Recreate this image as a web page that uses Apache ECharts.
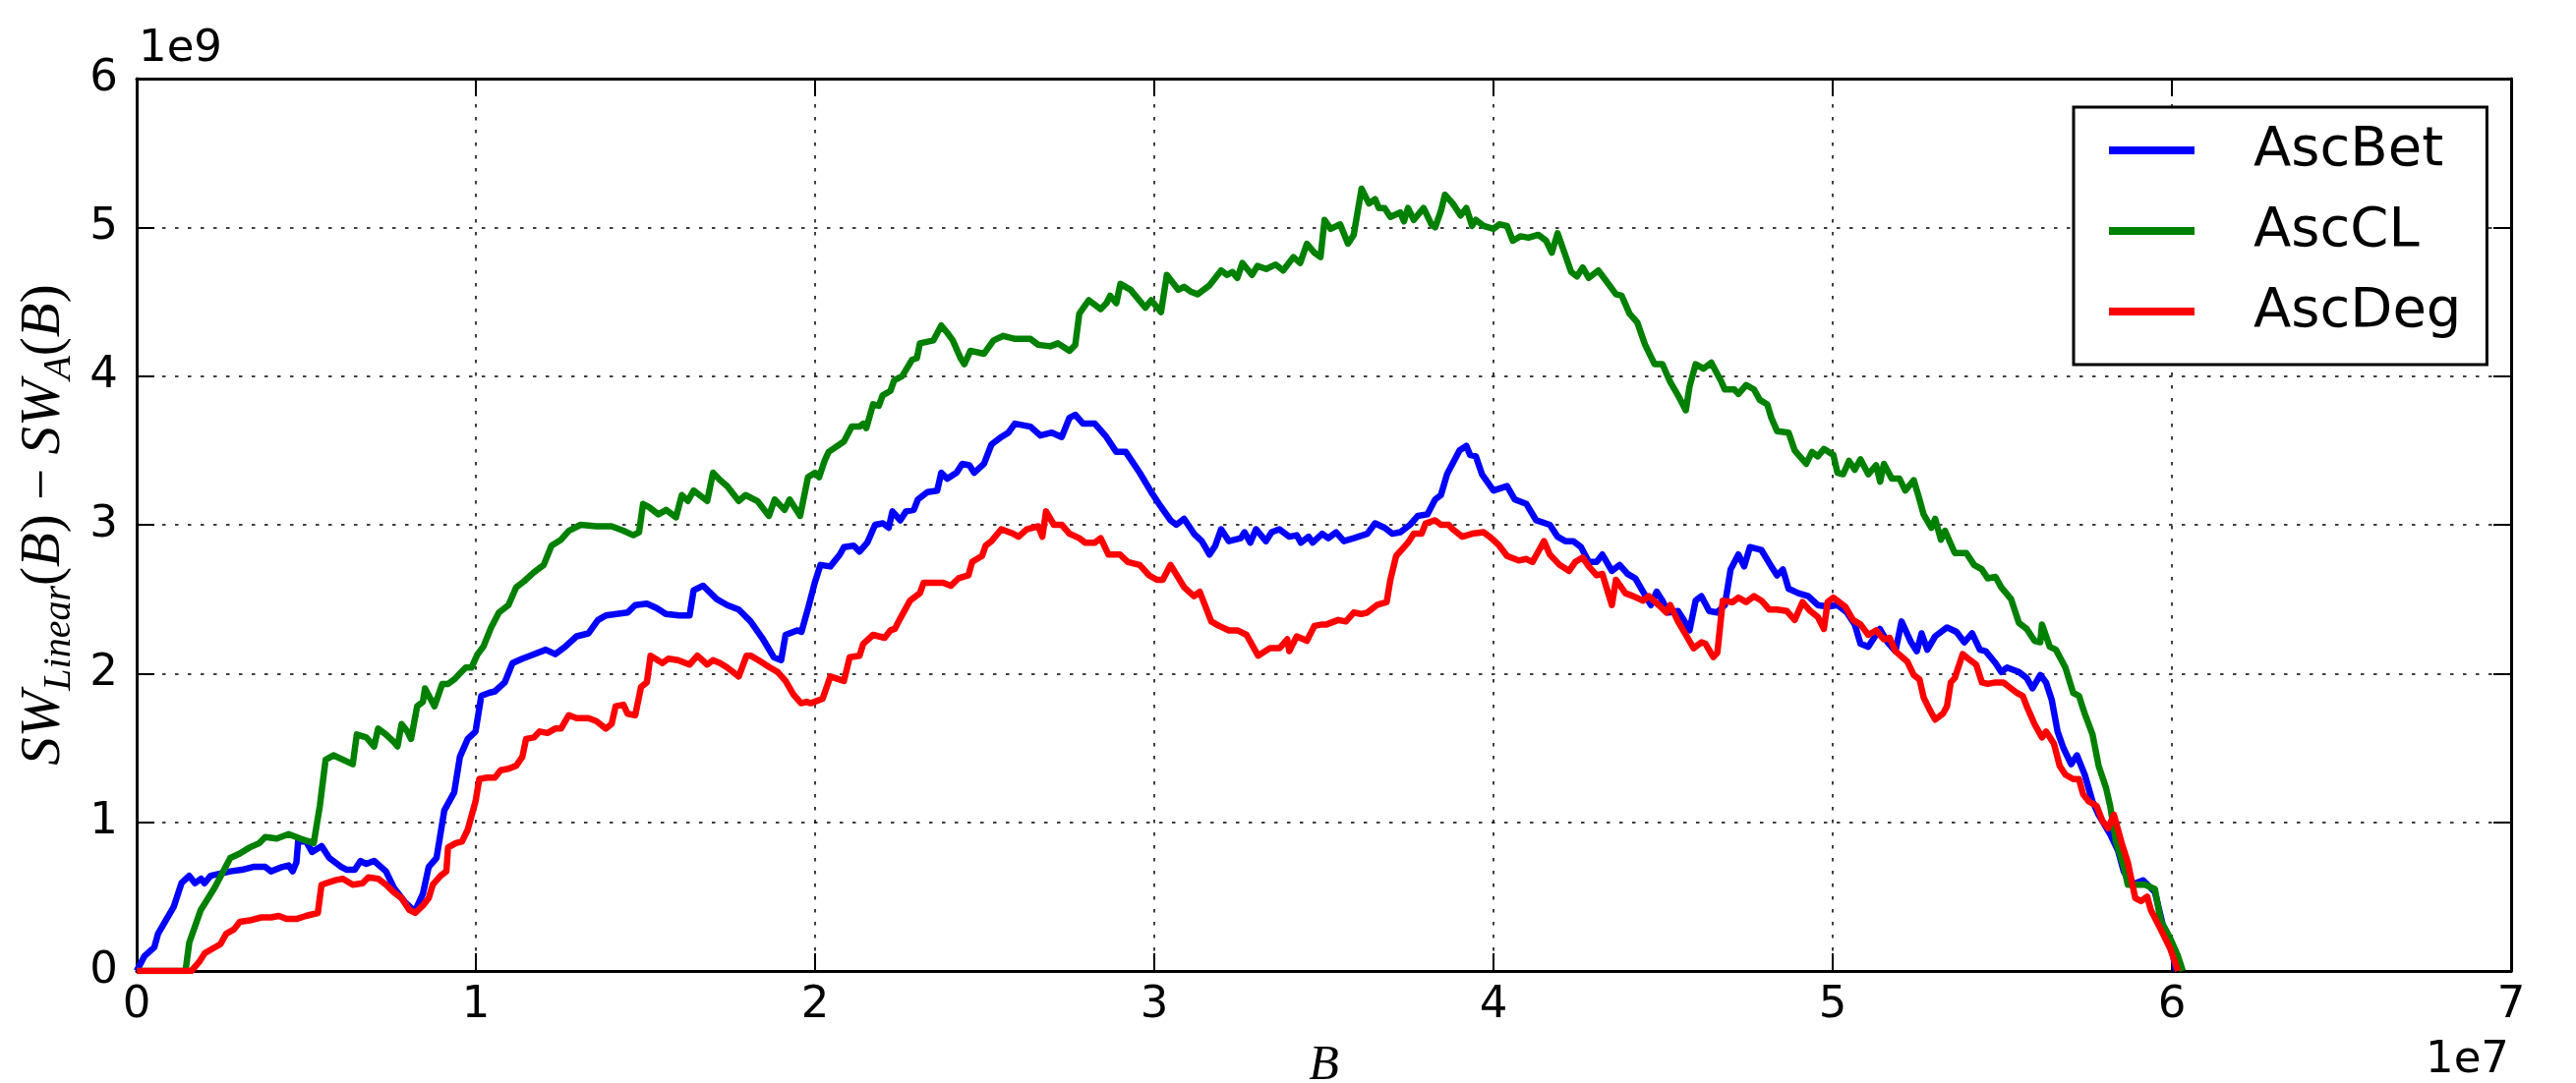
<!DOCTYPE html>
<html>
<head>
<meta charset="utf-8">
<script src="https://cdn.jsdelivr.net/npm/echarts@6/dist/echarts.min.js"></script>
<style>
html,body{margin:0;padding:0;background:#fff;}
#chart{width:2620px;height:1102px;}
</style>
</head>
<body>
<div id="chart"></div>
<script>
// B in units of 1e6, value in units of 1e9
const seriesNames = ['AscBet', 'AscCL', 'AscDeg'];
const xTicks = [0, 1, 2, 3, 4, 5, 6, 7];      // x tick labels (x 1e7)
const yTicks = [0, 1, 2, 3, 4, 5, 6];         // y tick labels (x 1e9)

const ascBet = [[0,0],[0.23,0.10],[0.52,0.16],[0.63,0.25],[1.09,0.43],[1.32,0.59],[1.55,0.64],[1.72,0.59],[1.9,0.62],[2.0,0.59],[2.18,0.64],[2.76,0.67],[3.1,0.68],[3.44,0.70],[3.79,0.70],[3.96,0.67],[4.3,0.70],[4.48,0.71],[4.6,0.67],[4.71,0.73],[4.76,0.87],[5.0,0.87],[5.17,0.80],[5.45,0.84],[5.68,0.76],[6.03,0.70],[6.2,0.68],[6.43,0.68],[6.6,0.74],[6.77,0.72],[7.0,0.74],[7.35,0.67],[7.58,0.56],[7.92,0.46],[8.2,0.40],[8.44,0.52],[8.61,0.70],[8.84,0.76],[9.07,1.08],[9.36,1.20],[9.53,1.44],[9.76,1.56],[9.99,1.61],[10.16,1.85],[10.39,1.87],[10.56,1.88],[10.85,1.94],[11.08,2.07],[11.37,2.10],[11.6,2.12],[12.06,2.16],[12.34,2.13],[12.63,2.18],[12.97,2.25],[13.32,2.27],[13.6,2.36],[13.83,2.39],[14.47,2.41],[14.7,2.46],[15.04,2.47],[15.33,2.44],[15.6,2.40],[16.0,2.39],[16.3,2.39],[16.42,2.56],[16.7,2.59],[17.1,2.50],[17.41,2.46],[17.75,2.43],[18.1,2.35],[18.44,2.24],[18.78,2.11],[19.0,2.09],[19.13,2.26],[19.47,2.29],[19.6,2.28],[19.82,2.46],[19.99,2.61],[20.16,2.73],[20.45,2.72],[20.73,2.80],[20.85,2.85],[21.14,2.86],[21.31,2.82],[21.54,2.88],[21.77,3.0],[22.0,3.01],[22.17,2.98],[22.28,3.09],[22.51,3.03],[22.68,3.09],[22.91,3.10],[23.03,3.17],[23.31,3.22],[23.6,3.23],[23.72,3.35],[23.9,3.31],[24.17,3.35],[24.34,3.41],[24.55,3.40],[24.69,3.35],[24.98,3.41],[25.2,3.54],[25.49,3.59],[25.7,3.62],[25.89,3.68],[26.35,3.66],[26.64,3.60],[26.98,3.62],[27.27,3.59],[27.5,3.72],[27.67,3.74],[27.9,3.68],[28.25,3.68],[28.59,3.59],[28.88,3.49],[29.16,3.49],[29.57,3.35],[29.91,3.22],[30.14,3.14],[30.48,3.03],[30.65,3.0],[30.88,3.04],[31.17,2.94],[31.4,2.89],[31.63,2.80],[31.8,2.86],[31.97,2.97],[32.2,2.89],[32.55,2.91],[32.66,2.95],[32.83,2.88],[33.0,2.97],[33.29,2.89],[33.46,2.95],[33.69,2.97],[33.98,2.92],[34.2,2.93],[34.32,2.88],[34.55,2.92],[34.67,2.88],[34.95,2.94],[35.13,2.91],[35.36,2.95],[35.59,2.89],[35.88,2.91],[36.28,2.94],[36.51,3.01],[36.79,2.98],[37.02,2.94],[37.25,2.95],[37.54,3.0],[37.77,3.06],[38.05,3.07],[38.28,3.17],[38.45,3.20],[38.63,3.34],[39.0,3.50],[39.2,3.53],[39.31,3.47],[39.48,3.46],[39.66,3.34],[40.0,3.23],[40.4,3.26],[40.63,3.17],[40.97,3.14],[41.26,3.03],[41.66,3.0],[41.89,2.92],[42.12,2.89],[42.35,2.89],[42.58,2.85],[42.81,2.75],[43.04,2.75],[43.21,2.80],[43.49,2.69],[43.72,2.73],[43.95,2.67],[44.18,2.64],[44.41,2.55],[44.64,2.46],[44.81,2.55],[44.98,2.49],[45.15,2.41],[45.44,2.42],[45.61,2.36],[45.78,2.29],[45.96,2.49],[46.13,2.52],[46.36,2.42],[46.59,2.41],[46.82,2.46],[46.99,2.70],[47.22,2.80],[47.39,2.72],[47.56,2.85],[47.9,2.83],[48.19,2.72],[48.36,2.66],[48.53,2.70],[48.7,2.57],[48.99,2.54],[49.28,2.52],[49.56,2.46],[49.85,2.45],[50.14,2.46],[50.42,2.41],[50.65,2.33],[50.82,2.20],[51.05,2.18],[51.22,2.24],[51.39,2.30],[51.62,2.21],[51.85,2.15],[52.03,2.35],[52.31,2.21],[52.48,2.15],[52.62,2.27],[52.79,2.16],[53.02,2.25],[53.37,2.31],[53.65,2.28],[53.88,2.21],[54.11,2.27],[54.34,2.16],[54.51,2.15],[54.8,2.07],[54.97,2.01],[55.14,2.04],[55.49,2.01],[55.72,1.97],[55.89,1.90],[56.12,1.99],[56.29,1.94],[56.46,1.82],[56.63,1.61],[56.8,1.50],[57.03,1.39],[57.2,1.45],[57.43,1.32],[57.66,1.14],[57.84,1.05],[58.18,0.92],[58.41,0.81],[58.58,0.67],[58.81,0.58],[59.15,0.61],[59.5,0.53],[59.73,0.31],[59.95,0.19],[60.13,0]];

const ascCL = [[0,0],[1.44,0],[1.55,0.19],[1.89,0.41],[2.3,0.56],[2.76,0.76],[3.04,0.79],[3.33,0.83],[3.62,0.86],[3.79,0.90],[4.13,0.89],[4.48,0.92],[4.82,0.89],[5.22,0.86],[5.4,1.11],[5.57,1.42],[5.8,1.45],[6.37,1.39],[6.49,1.59],[6.77,1.57],[7.0,1.51],[7.12,1.63],[7.35,1.59],[7.58,1.54],[7.69,1.51],[7.81,1.66],[7.98,1.61],[8.09,1.56],[8.27,1.78],[8.44,1.81],[8.5,1.90],[8.78,1.78],[9.01,1.93],[9.18,1.93],[9.36,1.96],[9.53,2.0],[9.7,2.04],[9.87,2.04],[10.05,2.13],[10.22,2.18],[10.45,2.31],[10.68,2.41],[10.96,2.46],[11.19,2.58],[11.42,2.62],[11.71,2.68],[12.0,2.73],[12.23,2.86],[12.51,2.90],[12.74,2.96],[13.09,3.0],[13.55,2.99],[14.0,2.99],[14.35,2.96],[14.64,2.93],[14.81,2.95],[14.93,3.14],[15.1,3.12],[15.38,3.07],[15.61,3.10],[15.9,3.05],[16.07,3.20],[16.25,3.16],[16.42,3.23],[16.82,3.16],[16.99,3.35],[17.2,3.30],[17.41,3.26],[17.75,3.16],[17.95,3.20],[18.3,3.16],[18.64,3.06],[18.81,3.17],[19.1,3.10],[19.25,3.17],[19.56,3.06],[19.79,3.32],[20.0,3.35],[20.12,3.32],[20.28,3.43],[20.4,3.49],[20.85,3.56],[21.08,3.66],[21.31,3.66],[21.42,3.68],[21.51,3.65],[21.71,3.81],[21.88,3.80],[21.99,3.87],[22.22,3.90],[22.33,3.97],[22.57,4.0],[22.86,4.11],[23.0,4.12],[23.09,4.22],[23.49,4.24],[23.72,4.34],[23.9,4.29],[24.06,4.24],[24.29,4.12],[24.4,4.08],[24.58,4.17],[24.98,4.15],[25.26,4.24],[25.55,4.27],[25.9,4.25],[26.35,4.25],[26.58,4.21],[26.93,4.20],[27.16,4.22],[27.5,4.17],[27.67,4.21],[27.79,4.42],[28.07,4.51],[28.42,4.45],[28.59,4.49],[28.7,4.54],[28.88,4.49],[29.0,4.62],[29.3,4.58],[29.74,4.46],[29.91,4.51],[30.2,4.43],[30.37,4.68],[30.71,4.58],[30.88,4.60],[31.06,4.57],[31.28,4.55],[31.63,4.61],[31.97,4.71],[32.15,4.68],[32.3,4.70],[32.45,4.66],[32.6,4.76],[32.88,4.68],[33.04,4.74],[33.3,4.72],[33.58,4.75],[33.8,4.71],[34.1,4.80],[34.3,4.76],[34.5,4.89],[34.72,4.83],[34.9,4.80],[35.02,5.05],[35.2,4.99],[35.48,5.02],[35.71,4.89],[35.88,4.95],[36.11,5.26],[36.33,5.16],[36.51,5.19],[36.62,5.13],[36.79,5.13],[36.96,5.07],[37.25,5.10],[37.36,5.04],[37.48,5.13],[37.65,5.05],[37.94,5.13],[38.17,5.02],[38.28,5.00],[38.45,5.11],[38.57,5.22],[38.8,5.16],[39.03,5.08],[39.2,5.13],[39.37,5.01],[39.48,5.05],[39.71,5.01],[40.0,4.99],[40.17,5.02],[40.4,5.01],[40.57,4.91],[40.8,4.94],[41.03,4.93],[41.32,4.95],[41.55,4.91],[41.72,4.83],[41.89,4.96],[42.06,4.85],[42.29,4.70],[42.46,4.67],[42.63,4.73],[42.81,4.66],[43.09,4.71],[43.32,4.64],[43.61,4.55],[43.78,4.54],[44.01,4.42],[44.24,4.36],[44.47,4.21],[44.75,4.08],[44.98,4.08],[45.21,3.96],[45.44,3.87],[45.67,3.77],[45.78,3.93],[45.96,4.08],[46.19,4.05],[46.42,4.09],[46.7,3.97],[46.82,3.91],[47.1,3.91],[47.22,3.88],[47.45,3.94],[47.68,3.91],[47.85,3.84],[48.07,3.81],[48.19,3.72],[48.36,3.63],[48.7,3.62],[48.88,3.50],[49.22,3.41],[49.39,3.49],[49.56,3.46],[49.74,3.51],[50.02,3.47],[50.14,3.35],[50.31,3.34],[50.48,3.43],[50.65,3.37],[50.82,3.44],[51.05,3.34],[51.28,3.40],[51.4,3.29],[51.51,3.41],[51.74,3.31],[51.97,3.31],[52.14,3.23],[52.39,3.30],[52.56,3.17],[52.68,3.07],[52.91,2.98],[53.02,3.04],[53.19,2.90],[53.31,2.96],[53.6,2.81],[53.94,2.81],[54.17,2.73],[54.4,2.70],[54.57,2.64],[54.8,2.65],[54.97,2.58],[55.26,2.50],[55.49,2.34],[55.72,2.30],[55.95,2.22],[56.12,2.21],[56.17,2.33],[56.4,2.18],[56.58,2.16],[56.86,2.04],[57.09,1.87],[57.26,1.85],[57.43,1.73],[57.66,1.59],[57.84,1.38],[58.06,1.23],[58.18,1.11],[58.35,0.87],[58.58,0.70],[58.7,0.58],[58.98,0.58],[59.21,0.58],[59.5,0.55],[59.67,0.34],[59.95,0.22],[60.18,0.10],[60.32,0]];

const ascDeg = [[0,0],[1.61,0],[1.84,0.06],[2.01,0.12],[2.24,0.15],[2.47,0.18],[2.64,0.25],[2.87,0.28],[3.04,0.33],[3.33,0.34],[3.67,0.36],[3.96,0.36],[4.19,0.37],[4.42,0.35],[4.71,0.35],[4.99,0.37],[5.34,0.39],[5.45,0.58],[5.86,0.61],[6.08,0.62],[6.37,0.58],[6.66,0.59],[6.83,0.63],[7.12,0.62],[7.35,0.58],[7.58,0.53],[7.81,0.49],[8.04,0.41],[8.21,0.39],[8.44,0.44],[8.61,0.49],[8.73,0.58],[8.96,0.64],[9.13,0.67],[9.18,0.83],[9.41,0.86],[9.59,0.87],[9.76,0.95],[9.99,1.14],[10.1,1.29],[10.33,1.30],[10.56,1.30],[10.73,1.35],[10.96,1.36],[11.19,1.38],[11.37,1.44],[11.48,1.56],[11.71,1.57],[11.88,1.61],[12.11,1.60],[12.34,1.63],[12.51,1.63],[12.74,1.72],[12.97,1.70],[13.32,1.70],[13.55,1.68],[13.83,1.63],[14.0,1.66],[14.12,1.78],[14.35,1.79],[14.47,1.73],[14.7,1.72],[14.87,1.91],[15.04,1.94],[15.15,2.12],[15.5,2.07],[15.67,2.10],[15.96,2.09],[16.3,2.06],[16.53,2.12],[16.82,2.06],[16.99,2.09],[17.2,2.07],[17.41,2.04],[17.75,1.98],[17.98,2.12],[18.1,2.12],[18.33,2.09],[18.67,2.04],[18.9,2.01],[19.13,1.95],[19.36,1.86],[19.59,1.80],[19.75,1.81],[19.87,1.80],[20.22,1.83],[20.45,1.98],[20.85,1.95],[21.02,2.11],[21.31,2.12],[21.42,2.20],[21.71,2.26],[22.05,2.24],[22.22,2.29],[22.35,2.30],[22.51,2.37],[22.8,2.49],[23.09,2.54],[23.2,2.61],[23.49,2.61],[23.78,2.61],[24.0,2.59],[24.23,2.64],[24.52,2.66],[24.63,2.75],[24.92,2.79],[25.03,2.86],[25.2,2.89],[25.49,2.97],[25.84,2.94],[26.0,2.92],[26.24,2.97],[26.58,2.99],[26.7,2.92],[26.81,3.09],[27.04,3.0],[27.27,3.0],[27.5,2.94],[27.79,2.91],[27.96,2.88],[28.25,2.88],[28.42,2.91],[28.65,2.80],[28.99,2.80],[29.22,2.75],[29.57,2.73],[29.85,2.66],[30.08,2.63],[30.25,2.63],[30.48,2.73],[30.88,2.58],[31.17,2.52],[31.34,2.55],[31.68,2.35],[31.91,2.32],[32.2,2.29],[32.45,2.29],[32.72,2.26],[33.06,2.12],[33.41,2.17],[33.69,2.17],[33.92,2.23],[33.98,2.15],[34.2,2.25],[34.5,2.22],[34.72,2.32],[34.95,2.33],[35.08,2.33],[35.42,2.36],[35.65,2.35],[35.88,2.41],[36.1,2.40],[36.28,2.41],[36.56,2.46],[36.85,2.48],[36.96,2.63],[37.13,2.79],[37.48,2.88],[37.65,2.94],[37.88,2.94],[38.0,3.01],[38.28,3.03],[38.45,3.0],[38.68,3.0],[38.8,2.97],[39.08,2.92],[39.37,2.94],[39.71,2.95],[39.94,2.91],[40.17,2.86],[40.4,2.79],[40.74,2.76],[40.97,2.77],[41.15,2.75],[41.32,2.82],[41.49,2.89],[41.66,2.80],[41.95,2.73],[42.23,2.69],[42.41,2.75],[42.63,2.78],[42.81,2.72],[43.04,2.66],[43.21,2.67],[43.49,2.46],[43.61,2.63],[43.89,2.54],[44.12,2.52],[44.41,2.49],[44.58,2.52],[44.87,2.46],[45.1,2.41],[45.21,2.46],[45.44,2.35],[45.67,2.26],[45.9,2.17],[46.13,2.21],[46.25,2.20],[46.48,2.11],[46.6,2.14],[46.76,2.49],[47.05,2.48],[47.22,2.51],[47.45,2.48],[47.68,2.52],[47.9,2.49],[48.13,2.43],[48.36,2.43],[48.65,2.42],[48.88,2.36],[49.11,2.48],[49.34,2.42],[49.56,2.38],[49.74,2.30],[49.85,2.48],[50.02,2.51],[50.37,2.45],[50.6,2.36],[50.82,2.33],[51.05,2.26],[51.28,2.29],[51.51,2.23],[51.68,2.24],[51.85,2.15],[52.2,2.08],[52.39,1.99],[52.56,1.96],[52.68,1.84],[52.85,1.76],[53.02,1.69],[53.25,1.73],[53.37,1.78],[53.48,1.94],[53.6,1.97],[53.83,2.13],[54.05,2.09],[54.23,2.06],[54.4,1.94],[54.57,1.93],[54.8,1.94],[55.03,1.94],[55.2,1.91],[55.43,1.87],[55.6,1.85],[55.72,1.78],[55.95,1.66],[56.17,1.57],[56.29,1.61],[56.52,1.53],[56.69,1.38],[56.86,1.32],[57.09,1.29],[57.26,1.29],[57.38,1.19],[57.55,1.14],[57.78,1.11],[57.95,1.01],[58.12,0.96],[58.29,1.05],[58.52,0.86],[58.7,0.73],[58.92,0.49],[59.09,0.47],[59.27,0.50],[59.38,0.41],[59.67,0.28],[59.95,0.15],[60.18,0]];

const seriesColors = ['#0000ff', '#008000', '#ff0000'];
const X_UNIT = 1e6, Y_UNIT = 1e9;
const scale = arr => arr.map(p => [p[0] * X_UNIT, p[1] * Y_UNIT]);

const chart = echarts.init(document.getElementById('chart'), null, {renderer: 'canvas'});
const tickFont = 'DejaVu Sans';
const axisLine = {show: true, onZero: false, lineStyle: {color: '#000', width: 3}};
const axisTick = {show: true, inside: true, length: 18, lineStyle: {color: '#000', width: 2}};
const gridLine = {show: true, lineStyle: {color: '#000', width: 1.5, type: [3.5, 9.5]}};
const mathFont = 'Liberation Serif';

const option = {
  backgroundColor: '#fff',
  animation: false,
  grid: {left: 139, top: 80, right: 66, bottom: 114, containLabel: false, outerBoundsMode: 'none'},
  legend: {
    data: seriesNames,
    orient: 'vertical',
    left: 2109, top: 109,
    padding: [14, 26, 24, 36],
    itemGap: 22,
    itemWidth: 87, itemHeight: 8,
    icon: 'rect',
    borderColor: '#000', borderWidth: 3,
    backgroundColor: '#fff',
    textStyle: {fontFamily: tickFont, fontSize: 56, color: '#000', lineHeight: 60, padding: [0, 0, 0, 55]}
  },
  xAxis: [{
    type: 'value', position: 'bottom', min: 0, max: 7e7, interval: 1e7,
    axisLine, axisTick, splitLine: gridLine,
    axisLabel: {fontFamily: tickFont, fontSize: 45, color: '#000', margin: 13,
      formatter: v => String(xTicks[Math.round(v / 1e7)])},
    name: 'B', nameLocation: 'middle', nameGap: 72,
    nameTextStyle: {fontFamily: mathFont, fontStyle: 'italic', fontSize: 50, color: '#000'}
  }, {
    type: 'value', position: 'top', min: 0, max: 7e7, interval: 1e7,
    axisLine, axisTick, splitLine: {show: false}, axisLabel: {show: false}
  }],
  yAxis: [{
    type: 'value', position: 'left', min: 0, max: 6e9, interval: 1e9,
    axisLine, axisTick, splitLine: gridLine,
    axisLabel: {fontFamily: tickFont, fontSize: 45, color: '#000', margin: 19,
      formatter: v => String(yTicks[Math.round(v / 1e9)])},
    name: '{it|SW}{sub|Linear}{rm|(}{it|B}{rm|) − }{it|SW}{sub|A}{rm|(}{it|B}{rm|)}',
    nameLocation: 'middle', nameGap: 54, nameRotate: 90,
    nameTextStyle: {
      color: '#000',
      rich: {
        it: {fontFamily: mathFont, fontStyle: 'italic', fontSize: 57, color: '#000', lineHeight: 58},
        rm: {fontFamily: mathFont, fontSize: 57, color: '#000', lineHeight: 58},
        sub: {fontFamily: mathFont, fontStyle: 'italic', fontSize: 40, color: '#000', lineHeight: 40, padding: [30, 0, 0, 0]}
      }
    }
  }, {
    type: 'value', position: 'right', min: 0, max: 6e9, interval: 1e9,
    axisLine, axisTick, splitLine: {show: false}, axisLabel: {show: false}
  }],
  graphic: [
    {type: 'text', left: 141, top: 28, style: {text: '1e9', font: '45px "DejaVu Sans"', fill: '#000'}},
    {type: 'text', right: 68, top: 1057, style: {text: '1e7', font: '45px "DejaVu Sans"', fill: '#000'}}
  ],
  series: [ascBet, ascCL, ascDeg].map((d, i) => ({
    name: seriesNames[i], type: 'line', xAxisIndex: 0, yAxisIndex: 0,
    data: scale(d), showSymbol: false, symbol: 'none',
    lineStyle: {color: seriesColors[i], width: 6.5, join: 'round'},
    itemStyle: {color: seriesColors[i]},
    emphasis: {disabled: true}
  }))
};
chart.setOption(option);
</script>
</body>
</html>
